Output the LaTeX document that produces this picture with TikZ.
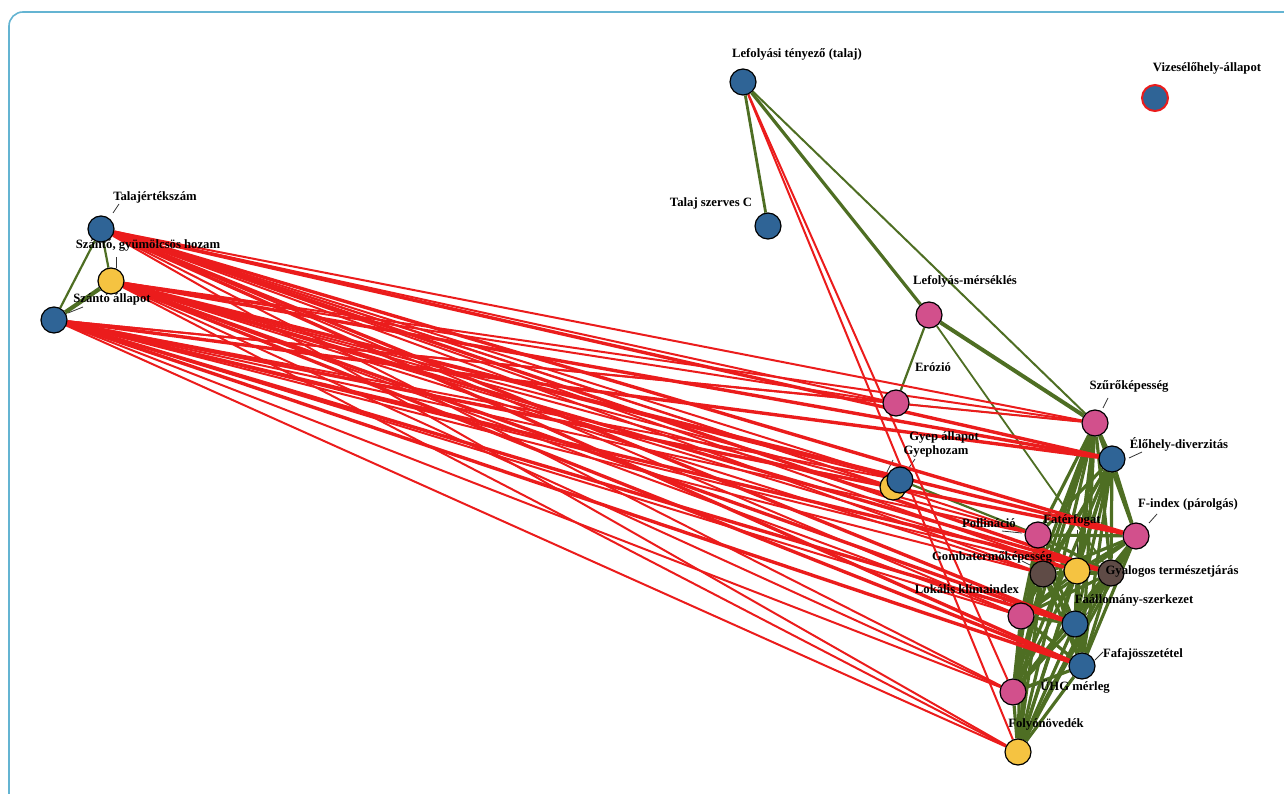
\documentclass[tikz,border=0pt]{standalone}
\usepackage{fontspec}
\usetikzlibrary{calc}
\newfontfamily\labf{Liberation Serif}
\pgfdeclarelayer{bg}
\pgfsetlayers{bg,main}
\definecolor{nblue}{HTML}{2F6496}
\definecolor{npink}{HTML}{D2508C}
\definecolor{nyel}{HTML}{F5C341}
\definecolor{nbrown}{HTML}{5F4B46}
\definecolor{egreen}{HTML}{4E6E23}
\definecolor{ered}{HTML}{EB1C1C}
\definecolor{frameblue}{HTML}{64B4D2}
\tikzset{
  nd/.style={circle, draw=black, line width=1.2pt, minimum size=26pt, inner sep=0pt},
  nb/.style={nd, fill=nblue},
  np/.style={nd, fill=npink},
  ny/.style={nd, fill=nyel},
  nbr/.style={nd, fill=nbrown},
  lab/.style={font=\labf\bfseries\fontsize{12.7}{14}\selectfont, inner sep=1pt, text=black},
  lead/.style={draw=black!80, line width=0.8pt},
  redge/.style={draw=ered, line width=2pt},
  redgeT/.style={draw=ered, line width=3.4pt},
  gedge/.style={draw=egreen, line width=2.2pt},
}
\begin{document}
\begin{tikzpicture}[x=1pt,y=-1pt]
\useasboundingbox (0,0) rectangle (1284,794);
\clip (0,0) rectangle (1284,794);
\draw[frameblue, line width=1.6pt, rounded corners=14pt] (9,12) rectangle (1310,820);

% nodes
\node[nb] (ta) at (101,229) {};
\node[ny] (sh) at (111,281) {};
\node[nb] (sa) at (54,320) {};
\node[nb] (lt) at (743,82) {};
\node[nb] (sc) at (768,226) {};
\node[nd, fill=nblue, draw=ered, line width=2pt] (vz) at (1155,98) {};
\node[np] (lm) at (929,315) {};
\node[np] (er) at (896,403) {};
\node[np] (sz) at (1095,423) {};
\node[nb] (ed) at (1112,459) {};
\node[ny] (gh) at (893,487) {};
\node[nb] (ga) at (900,480) {};
\node[np] (fi) at (1136,536) {};
\node[np] (po) at (1038,535) {};
\node[ny] (ft) at (1077,571) {};
\node[nbr] (gt) at (1043,574) {};
\node[nbr] (gy) at (1111,573) {};
\node[nb] (fa) at (1075,624) {};
\node[np] (lk) at (1021,616) {};
\node[nb] (ff) at (1082,666) {};
\node[np] (uh) at (1013,692) {};
\node[ny] (fn) at (1018,752) {};

% labels
\node[lab] (ta-l) at (155,197) {Talajértékszám};
\node[lab] (sh-l) at (148,245) {Szántó, gyümölcsös hozam};
\node[lab] (sa-l) at (112,299) {Szántó állapot};
\node[lab] (lt-l) at (797,54) {Lefolyási tényező (talaj)};
\node[lab] (sc-l) at (711,203) {Talaj szerves C};
\node[lab] (vz-l) at (1207,68) {Vizesélőhely-állapot};
\node[lab] (lm-l) at (965,281) {Lefolyás-mérséklés};
\node[lab] (er-l) at (933,367) {Erózió};
\node[lab] (sz-l) at (1129,386) {Szűrőképesség};
\node[lab] (ed-l) at (1179,444) {Élőhely-diverzitás};
\node[lab] (ga-l) at (944,437) {Gyep állapot};
\node[lab] (gh-l) at (936,451) {Gyephozam};
\node[lab] (fi-l) at (1188,504) {F-index (párolgás)};
\node[lab] (po-l) at (989,523) {Pollináció};
\node[lab] (ft-l) at (1072,520) {Fatérfogat};
\node[lab] (gt-l) at (992,557) {Gombatermőképesség};
\node[lab] (gy-l) at (1172,571) {Gyalogos természetjárás};
\node[lab] (fa-l) at (1134,600) {Faállomány-szerkezet};
\node[lab] (lk-l) at (967,589) {Lokális klímaindex};
\node[lab] (ff-l) at (1143,654) {Fafajösszetétel};
\node[lab] (uh-l) at (1075,687) {ÜHG mérleg};
\node[lab] (fn-l) at (1046,724) {Folyónövedék};

\begin{pgfonlayer}{bg}
% leader lines
\draw[lead] ($(ta)+(12,-16)$) -- ++(6,-9);
\draw[lead] ($(sh)+(5,-13)$) -- ++(0,-11);
\draw[lead] ($(sa)+(14,-7)$) -- ++(15,-6);
\draw[lead] ($(sz)+(8,-15)$) -- ++(5,-10);
\draw[lead] ($(ed)+(17,-1)$) -- ++(13,-6);
\draw[lead] ($(gh)+(-7,-13)$) -- ++(7,-14);
\draw[lead] ($(ga)+(8,-11)$) -- ++(7,-10);
\draw[lead] ($(fi)+(13,-13)$) -- ++(8,-9);
\draw[lead] ($(po)+(-16,-2)$) -- ++(-20,-2);
\draw[lead] ($(ft)+(0,-15)$) -- ++(0,-26);
\draw[lead] ($(gt)+(-13,-9)$) -- ++(-8,-4);
\draw[lead] ($(fa)+(8,-6)$) -- ++(11,-12);
\draw[lead] ($(lk)+(-5,-7)$) -- ++(-13,-9);
\draw[lead] ($(ff)+(13,-6)$) -- ++(8,-8);
\draw[lead] ($(uh)+(14,-4)$) -- ++(13,-4);
\draw[lead] ($(fn)+(6,-13)$) -- ++(6,-9);

% green edges
\draw[gedge] (ta) -- (sh);
\draw[gedge] (ta) -- (sa);
\draw[gedge, line width=4.2pt] (sh) -- (sa);
\draw[gedge, line width=2.8pt] (lt) -- (sc);
\draw[gedge, line width=3.2pt] (lt) -- (lm);
\draw[gedge, line width=2pt] (lt) -- (sz);
\draw[gedge] (lm) -- (er);
\draw[gedge, line width=4pt] (lm) -- (sz);
\draw[gedge, line width=1.8pt] (lm) -- (gy);
\draw[gedge, line width=1.4pt] (er) -- (sz);
\draw[gedge] (ga) -- (po);
\foreach \a/\rest in {sz/{ed,fi,po,ft,gt,gy,fa,lk,ff,uh,fn},
                      ed/{fi,po,ft,gt,gy,fa,lk,ff,uh,fn},
                      fi/{po,ft,gt,gy,fa,lk,ff,uh,fn},
                      po/{ft,gt,gy,fa,lk,ff,uh,fn},
                      ft/{gt,gy,fa,lk,ff,uh,fn},
                      gt/{gy,fa,lk,ff,uh,fn},
                      gy/{fa,lk,ff,uh,fn},
                      fa/{lk,ff,uh,fn},
                      lk/{ff,uh,fn},
                      ff/{uh,fn},
                      uh/{fn}} {
  \foreach \b in \rest { \draw[gedge, line width=3.2pt] (\a) -- (\b); }
}

% red edges
\foreach \s in {ta,sh,sa} {
  \foreach \t in {er,sz,ga,gh,po,ft,gt,lk,uh,fn} { \draw[redge] (\s) -- (\t); }
  \foreach \t in {ed,fi,gy,fa,ff} { \draw[redgeT] (\s) -- (\t); }
}
\draw[redge] (lt) -- (uh);
\draw[redge] (lt) -- (fn);
\end{pgfonlayer}
\end{tikzpicture}
\end{document}
